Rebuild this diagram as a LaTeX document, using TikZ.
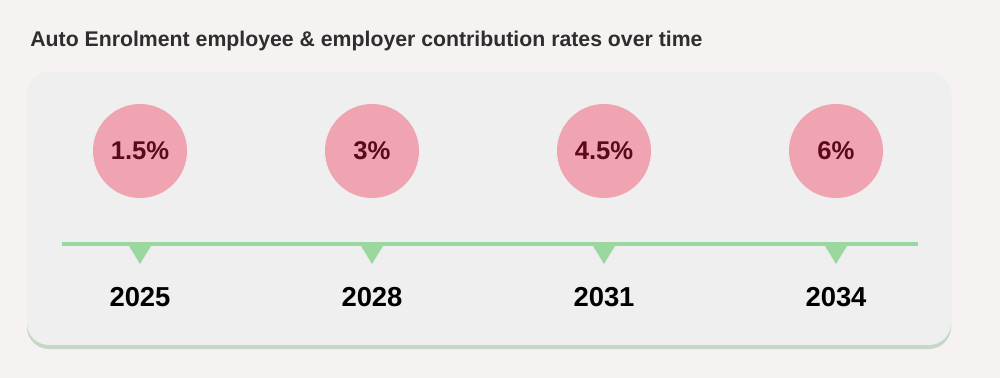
\documentclass[tikz,border=0pt]{standalone}
\usepackage{fontspec}
\setmainfont{Liberation Sans}
\definecolor{bg}{HTML}{F6F2F1}
\definecolor{panel}{HTML}{EFEFEF}
\definecolor{shadow}{HTML}{C3D9C5}
\definecolor{pinkc}{HTML}{F0A3B0}
\definecolor{maroon}{HTML}{5A0A1A}
\definecolor{lgreen}{HTML}{9AD8A0}
\definecolor{titlec}{HTML}{2E2E2E}
\tikzset{
  rate/.style={circle,fill=pinkc,minimum size=94*0.02cm,inner sep=0pt,
    font=\fontsize{14.6pt}{18pt}\selectfont\bfseries,text=maroon},
  year/.style={font=\fontsize{15.6pt}{18pt}\selectfont\bfseries,text=black,inner sep=0pt},
  tick/.style={fill=lgreen},
  tline/.style={draw=lgreen,line width=4*0.02cm}
}
\begin{document}
\begin{tikzpicture}[x=0.02cm,y=-0.02cm]
\fill[bg] (0,0) rectangle (1000,378);
\useasboundingbox (0,0) rectangle (1000,378);
\node[anchor=west,inner sep=0pt,font=\fontsize{12.1pt}{14pt}\selectfont\bfseries,text=titlec] (title) at (30,41) {Auto Enrolment employee \& employer contribution rates over time};
\fill[shadow,rounded corners=22*0.02cm] (27,76) rectangle (951,349);
\fill[panel,rounded corners=22*0.02cm] (27,72) rectangle (951,345);
\coordinate (L) at (62,244);
\coordinate (R) at (918,244);
\draw[tline] (L) -- (R);
\foreach \i/\x/\r/\yr in {1/140/1.5\%/2025,2/372/3\%/2028,3/604/4.5\%/2031,4/836/6\%/2034}{
  \node[rate] (c\i) at (\x,151) {\r};
  \coordinate (t\i) at (\x,246);
  \fill[tick] (t\i) ++(-11,0) -- ++(22,0) -- ++(-11,18) -- cycle;
  \node[year] (y\i) at (\x,297) {\yr};
}
\end{tikzpicture}
\end{document}
